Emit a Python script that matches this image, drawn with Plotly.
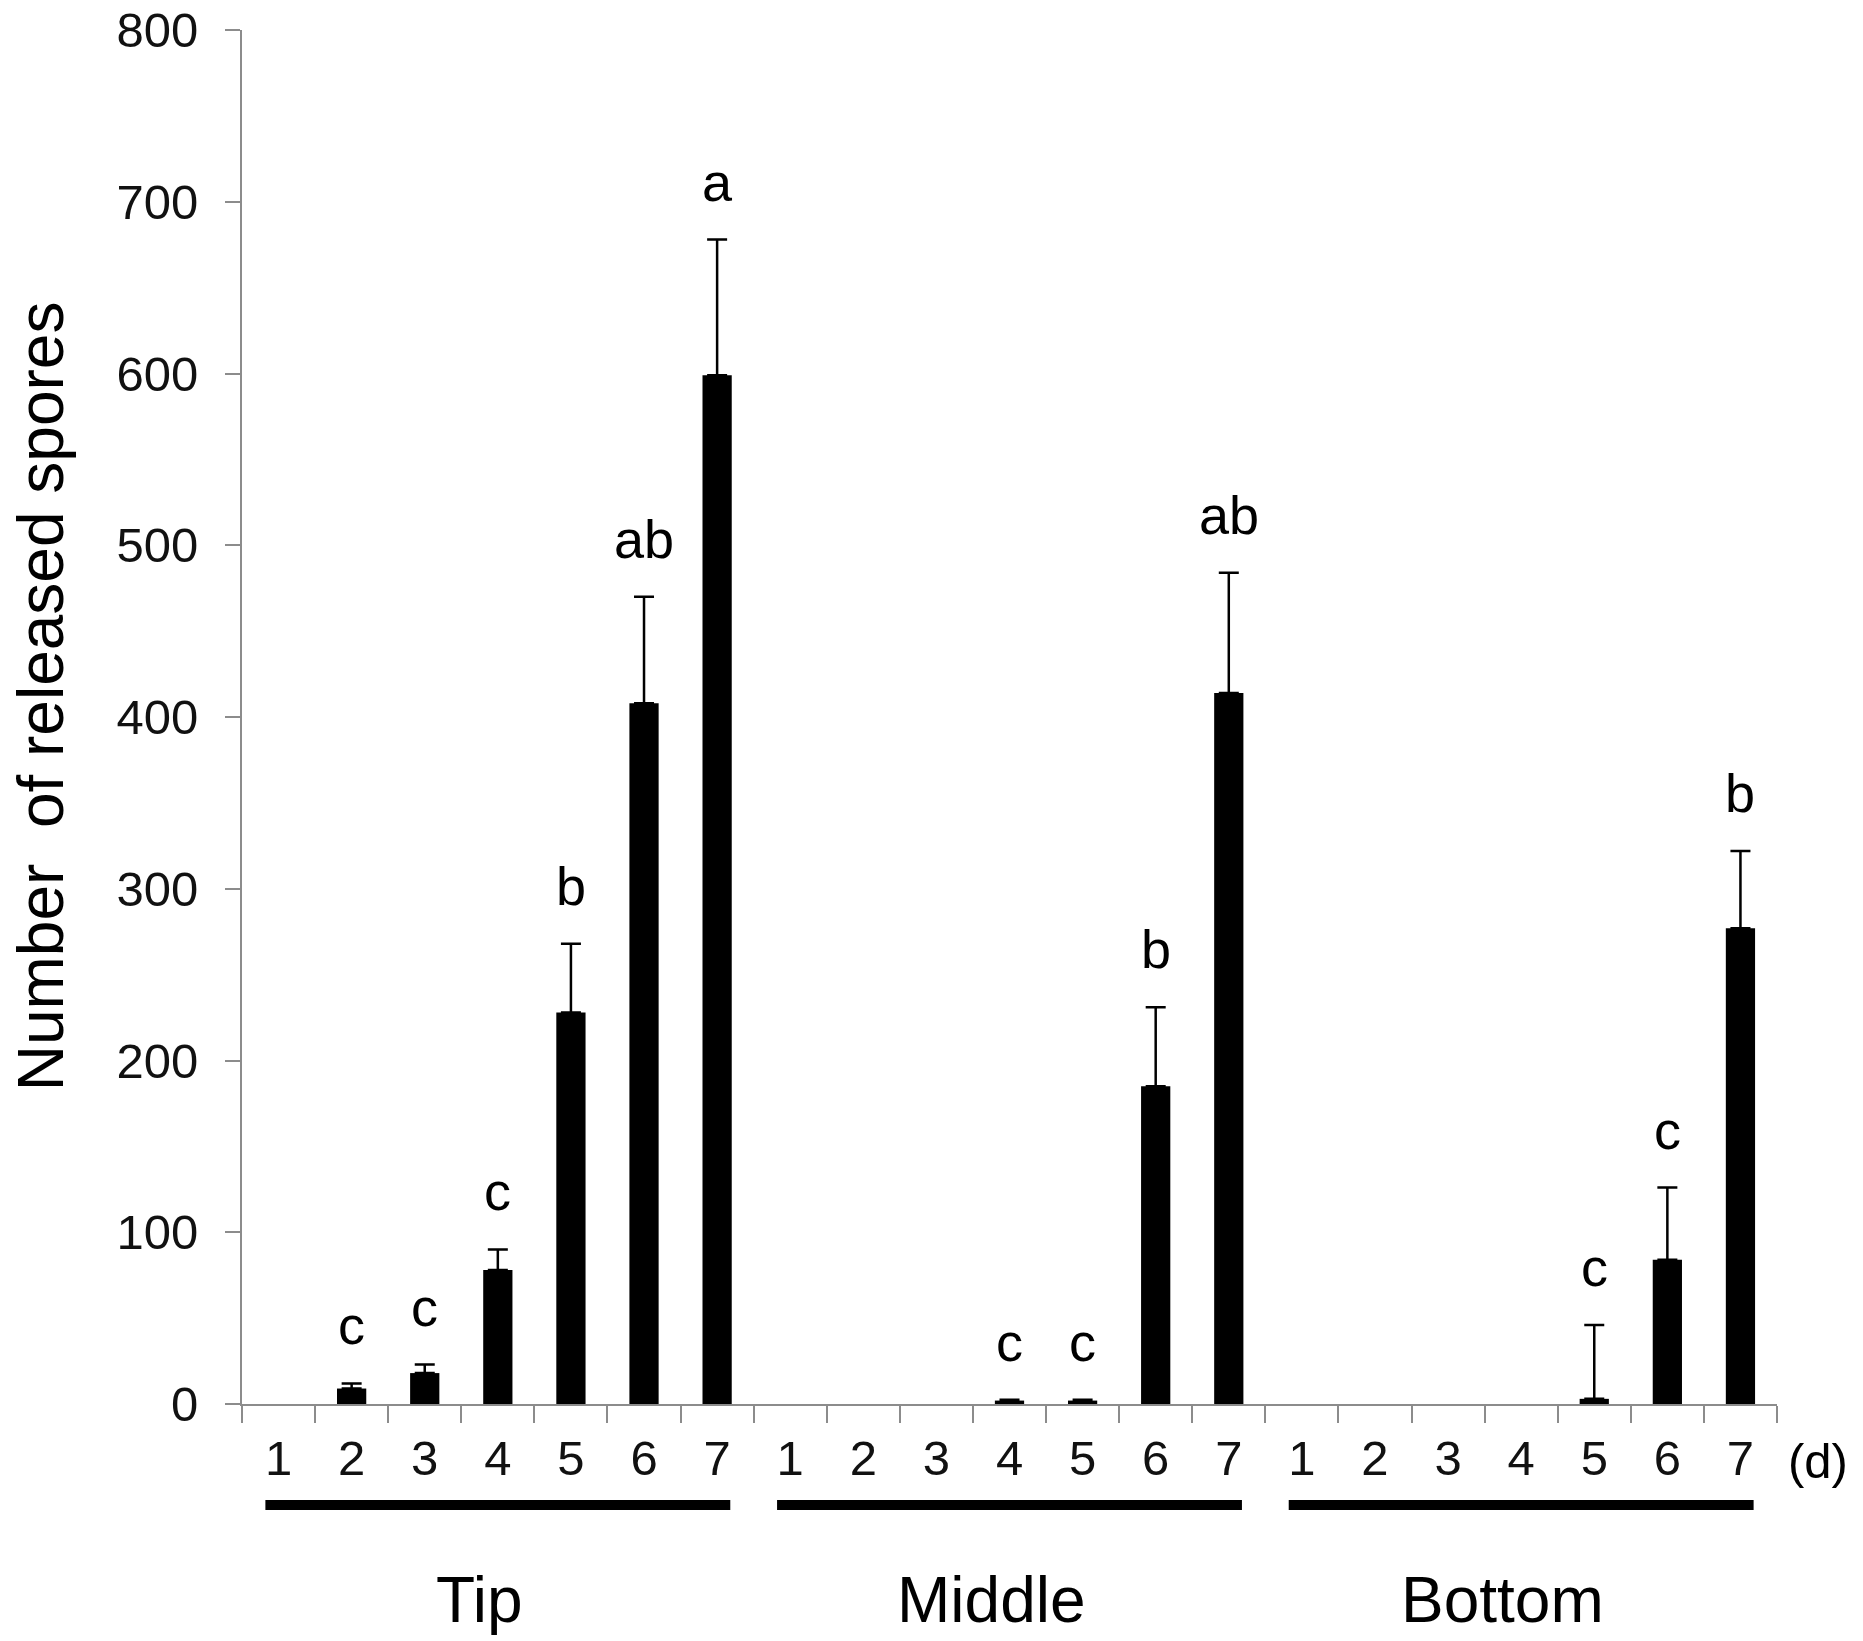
import plotly.graph_objects as go

# data
days = ["1", "2", "3", "4", "5", "6", "7"]
groups = ["Tip", "Middle", "Bottom"]

tip_mean = [0, 9, 18, 78, 228, 408, 599]
tip_se = [None, 3, 5, 12, 40, 62, 79]
tip_letters = ["", "c", "c", "c", "b", "ab", "a"]

mid_mean = [0, 0, 0, 2, 2, 185, 414]
mid_se = [None, None, None, 0.5, 0.5, 46, 70]
mid_letters = ["", "", "", "c", "c", "b", "ab"]

bot_mean = [0, 0, 0, 0, 3, 84, 277]
bot_se = [None, None, None, None, 43, 42, 45]
bot_letters = ["", "", "", "", "c", "c", "b"]

means = tip_mean + mid_mean + bot_mean
ses = tip_se + mid_se + bot_se
letters = tip_letters + mid_letters + bot_letters
xpos = list(range(len(means)))
ticktext = days * len(groups)

FONT = "Liberation Sans, Arial, sans-serif"
AXIS_GREY = "#8c8c8c"

fig = go.Figure()
fig.add_trace(go.Bar(
    x=xpos, y=means, width=0.4,
    marker=dict(color="black", line=dict(width=0)),
))

# error bars only where there is an SE (a transparent copy of those bars)
has_se = [i for i, s in enumerate(ses) if s is not None]
fig.add_trace(go.Bar(
    x=[xpos[i] for i in has_se], y=[means[i] for i in has_se], width=0.4,
    marker=dict(color="rgba(0,0,0,0)", line=dict(width=0)),
    error_y=dict(type="data", symmetric=False,
                 array=[ses[i] for i in has_se],
                 arrayminus=[0] * len(has_se), color="black",
                 thickness=2.5, width=10),
))

# significance letters above the error bars
for x, m, s, lab in zip(xpos, means, ses, letters):
    if lab:
        fig.add_annotation(x=x, y=m + (s or 0), text=lab, showarrow=False,
                           yanchor="bottom", yshift=26,
                           font=dict(family=FONT, size=54, color="black"))

# group bars and names under the axis
for g, name in enumerate(groups):
    fig.add_shape(type="line", xref="x", yref="paper",
                  x0=g * 7 - 0.18, x1=g * 7 + 6.18, y0=-0.0735, y1=-0.0735,
                  line=dict(color="black", width=10))
    fig.add_annotation(x=g * 7 + 2.75, y=-0.1426, xref="x", yref="paper",
                       text=name, showarrow=False, yanchor="middle",
                       font=dict(family=FONT, size=64, color="black"))

fig.add_annotation(x=1.027, y=-0.0415, xref="paper", yref="paper", text="(d)",
                   showarrow=False, xanchor="center", yanchor="middle",
                   font=dict(family=FONT, size=49, color="black"))

fig.add_annotation(x=-0.131, y=0.515, xref="paper", yref="paper",
                   text="Number  of released spores", textangle=-90,
                   showarrow=False, xanchor="center", yanchor="middle",
                   borderpad=0,
                   font=dict(family=FONT, size=64, color="black"))

fig.update_layout(
    width=1855, height=1633,
    margin=dict(l=234, r=86, t=22, b=237),
    paper_bgcolor="white", plot_bgcolor="white",
    showlegend=False, barmode="overlay",
    xaxis=dict(range=[-0.5, 20.5], tickmode="array", tickvals=xpos,
               ticktext=ticktext, ticks="", showgrid=False, zeroline=False,
               showline=True, linecolor=AXIS_GREY, linewidth=2,
               ticklabelstandoff=10, automargin=False,
               tickfont=dict(family=FONT, size=49, color="#111111"),
               minor=dict(tickmode="linear", tick0=-0.5, dtick=1,
                          ticks="outside", ticklen=17, tickwidth=2,
                          tickcolor=AXIS_GREY, showgrid=False)),
    yaxis=dict(range=[0, 800], dtick=100, ticks="outside", ticklen=15,
               tickwidth=2, tickcolor=AXIS_GREY, showgrid=False,
               zeroline=False, showline=True, linecolor=AXIS_GREY,
               linewidth=2, ticklabelstandoff=17, ticklabeloverflow="allow",
               automargin=False,
               tickfont=dict(family=FONT, size=49, color="#111111")),
)

fig.write_html("out.html")
